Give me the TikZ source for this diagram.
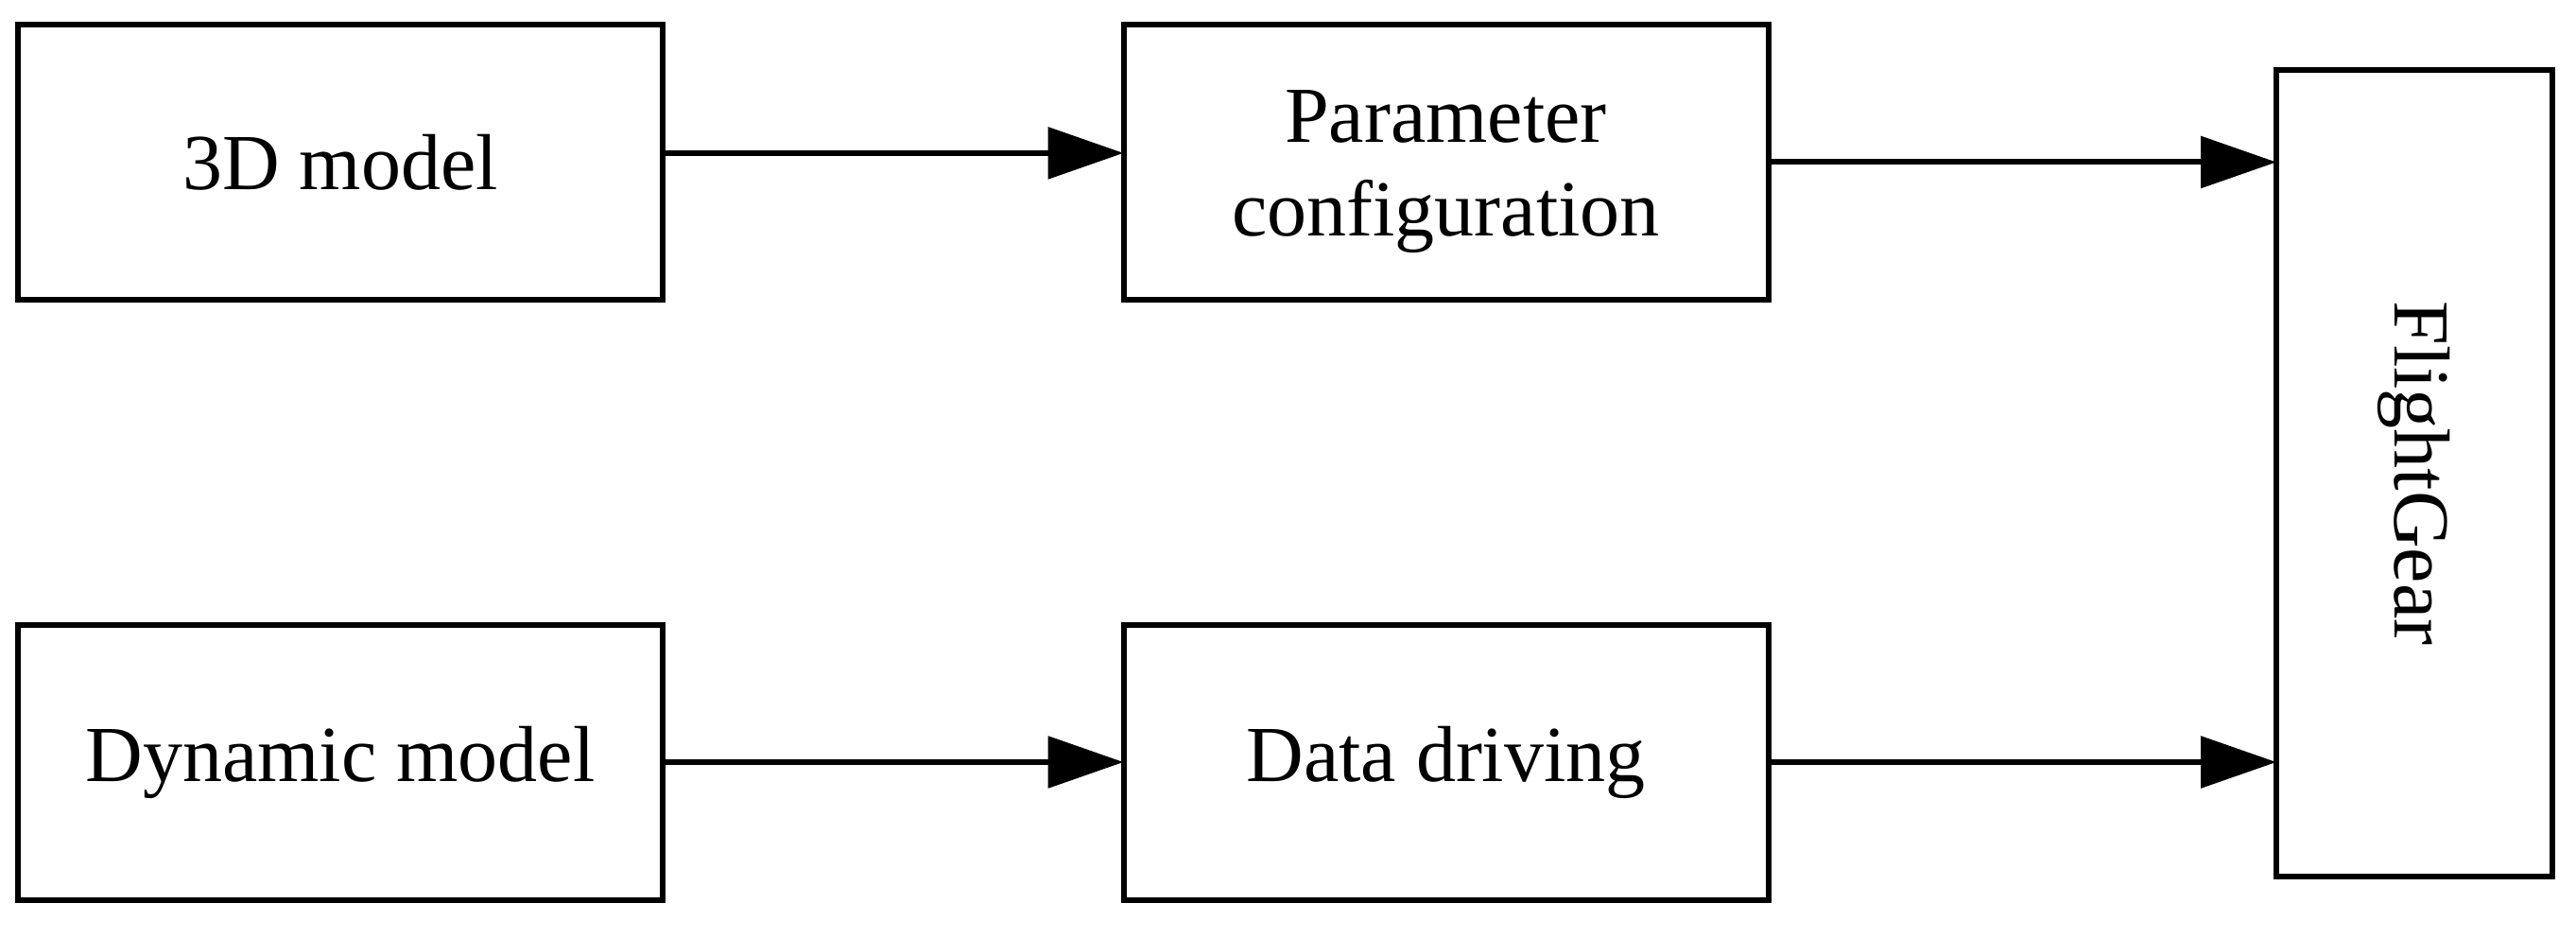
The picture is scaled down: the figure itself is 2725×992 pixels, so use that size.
\documentclass[tikz,border=0pt]{standalone}
\usepackage{fontspec}
\setmainfont{Liberation Serif}
\usetikzlibrary{arrows.meta}
\tikzset{
  blockbox/.style={draw=black, line width=1.5pt, fill=white, inner sep=0pt, outer sep=0pt,
    minimum width=170.5pt, minimum height=72.75pt, align=center,
    font=\fontsize{21}{24.75}\selectfont},
  flow/.style={draw=black, line width=1.5pt, -{Triangle[length=20pt,width=13.5pt]}}
}
\begin{document}
\begin{tikzpicture}[x=0.25pt, y=-0.25pt]
\useasboundingbox[fill=white] (0,0) rectangle (2725,992);
\node[blockbox] (m3d) at (360,171.5) {3D model};
\node[blockbox] (param) at (1529.5,171.5) {\rule{0pt}{0.9em}Parameter\\configuration};
\node[blockbox] (dyn) at (360,806) {Dynamic model};
\node[blockbox] (data) at (1529.5,806) {Data driving};
\node[blockbox, minimum width=73pt, minimum height=213.25pt] (fg) at (2554,500.5) {\rotatebox{-90}{FlightGear}};
\draw[flow] ([yshift=2.4pt]m3d.east) -- ([yshift=2.4pt]param.west);
\draw[flow] (param.east) -- (param.east -| fg.west);
\draw[flow] (dyn.east) -- (data.west);
\draw[flow] (data.east) -- (data.east -| fg.west);
\end{tikzpicture}
\end{document}
